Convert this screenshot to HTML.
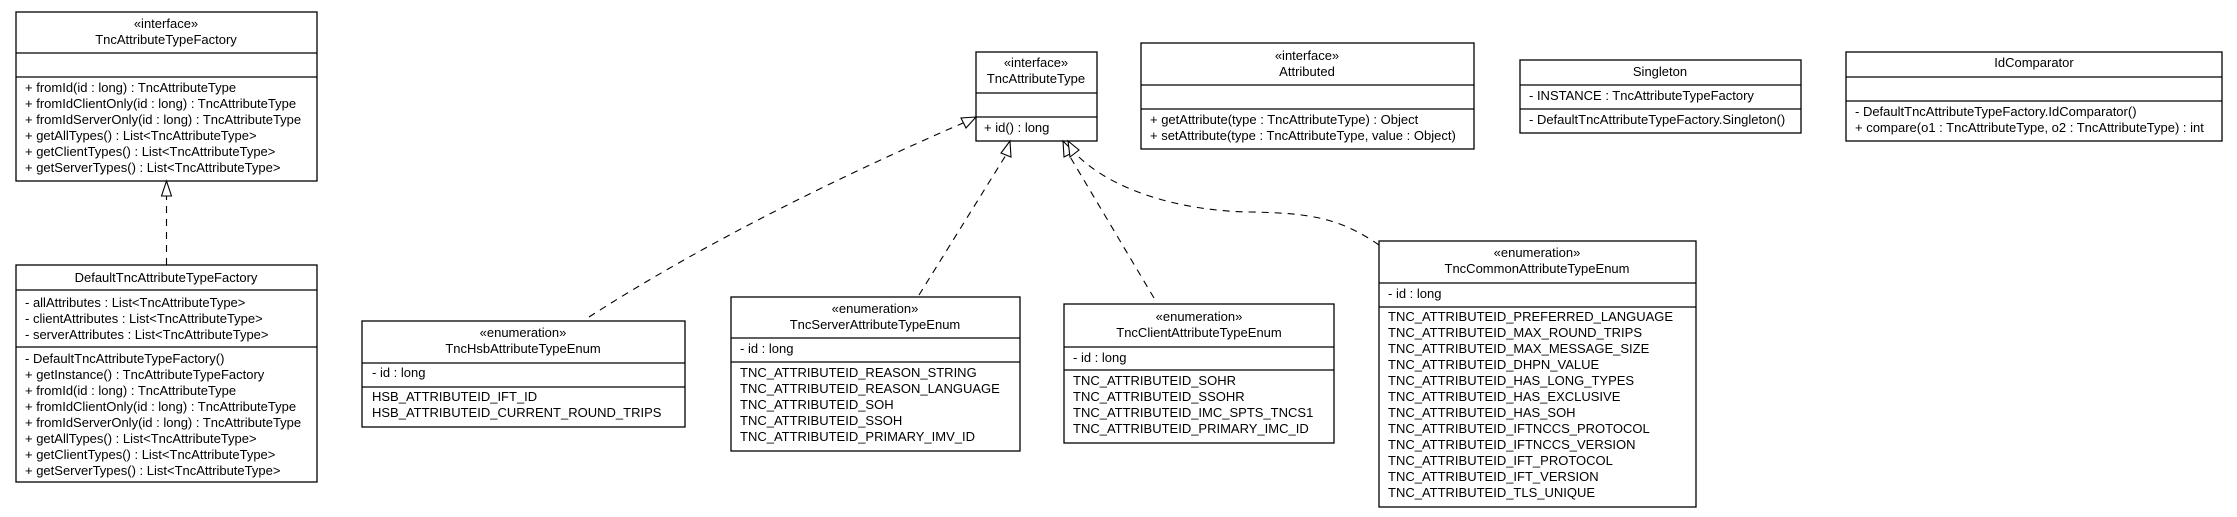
<!DOCTYPE html>
<html><head><meta charset="utf-8"><style>
html,body{margin:0;padding:0;background:#fff;}
svg{display:block;}
text{font-family:"Liberation Sans",sans-serif;font-size:13px;fill:#000;}
.c{text-anchor:middle;}
rect,line.s{stroke:#000;stroke-width:1.3;fill:none;}
.d{stroke:#000;stroke-width:1.1;fill:none;stroke-dasharray:7,6;}
.h{fill:#fff;stroke:#000;stroke-width:1.1;}
</style></head><body>
<svg width="2237" height="517" viewBox="0 0 2237 517" xmlns="http://www.w3.org/2000/svg">
<!-- Box A: TncAttributeTypeFactory -->
<rect x="16" y="12" width="301" height="169"/>
<line class="s" x1="16" y1="53" x2="317" y2="53"/>
<line class="s" x1="16" y1="77" x2="317" y2="77"/>
<text class="c" x="166" y="28">«interface»</text>
<text class="c" x="166" y="44">TncAttributeTypeFactory</text>
<text x="25" y="92">+ fromId(id : long) : TncAttributeType</text>
<text x="25" y="108">+ fromIdClientOnly(id : long) : TncAttributeType</text>
<text x="25" y="124">+ fromIdServerOnly(id : long) : TncAttributeType</text>
<text x="25" y="140">+ getAllTypes() : List&lt;TncAttributeType&gt;</text>
<text x="25" y="156">+ getClientTypes() : List&lt;TncAttributeType&gt;</text>
<text x="25" y="172">+ getServerTypes() : List&lt;TncAttributeType&gt;</text>

<!-- Box B: DefaultTncAttributeTypeFactory -->
<rect x="16" y="265" width="301" height="217"/>
<line class="s" x1="16" y1="290" x2="317" y2="290"/>
<line class="s" x1="16" y1="347" x2="317" y2="347"/>
<text class="c" x="166" y="282">DefaultTncAttributeTypeFactory</text>
<text x="25" y="307">- allAttributes : List&lt;TncAttributeType&gt;</text>
<text x="25" y="323">- clientAttributes : List&lt;TncAttributeType&gt;</text>
<text x="25" y="339">- serverAttributes : List&lt;TncAttributeType&gt;</text>
<text x="25" y="363">- DefaultTncAttributeTypeFactory()</text>
<text x="25" y="379">+ getInstance() : TncAttributeTypeFactory</text>
<text x="25" y="395">+ fromId(id : long) : TncAttributeType</text>
<text x="25" y="411">+ fromIdClientOnly(id : long) : TncAttributeType</text>
<text x="25" y="427">+ fromIdServerOnly(id : long) : TncAttributeType</text>
<text x="25" y="443">+ getAllTypes() : List&lt;TncAttributeType&gt;</text>
<text x="25" y="459">+ getClientTypes() : List&lt;TncAttributeType&gt;</text>
<text x="25" y="475">+ getServerTypes() : List&lt;TncAttributeType&gt;</text>

<!-- A<-B connector -->
<line class="d" x1="166.5" y1="265" x2="166.5" y2="196"/>
<polygon class="h" points="166.5,181 161.5,196 171.5,196"/>

<!-- TncAttributeType -->
<rect x="976" y="52" width="121" height="89"/>
<line class="s" x1="976" y1="93" x2="1097" y2="93"/>
<line class="s" x1="976" y1="117" x2="1097" y2="117"/>
<text class="c" x="1036" y="67">«interface»</text>
<text class="c" x="1036" y="83">TncAttributeType</text>
<text x="984" y="132">+ id() : long</text>

<!-- Attributed -->
<rect x="1141" y="43" width="333" height="106"/>
<line class="s" x1="1141" y1="85" x2="1474" y2="85"/>
<line class="s" x1="1141" y1="109" x2="1474" y2="109"/>
<text class="c" x="1307" y="60">«interface»</text>
<text class="c" x="1307" y="76">Attributed</text>
<text x="1150" y="124">+ getAttribute(type : TncAttributeType) : Object</text>
<text x="1150" y="140">+ setAttribute(type : TncAttributeType, value : Object)</text>

<!-- Singleton -->
<rect x="1520" y="60" width="281" height="73"/>
<line class="s" x1="1520" y1="85" x2="1801" y2="85"/>
<line class="s" x1="1520" y1="109" x2="1801" y2="109"/>
<text class="c" x="1660" y="76">Singleton</text>
<text x="1529" y="100">- INSTANCE : TncAttributeTypeFactory</text>
<text x="1529" y="124">- DefaultTncAttributeTypeFactory.Singleton()</text>

<!-- IdComparator -->
<rect x="1846" y="52" width="376" height="89"/>
<line class="s" x1="1846" y1="77" x2="2222" y2="77"/>
<line class="s" x1="1846" y1="101" x2="2222" y2="101"/>
<text class="c" x="2034" y="67">IdComparator</text>
<text x="1855" y="116">- DefaultTncAttributeTypeFactory.IdComparator()</text>
<text x="1855" y="132">+ compare(o1 : TncAttributeType, o2 : TncAttributeType) : int</text>

<!-- Hsb -->
<rect x="362" y="321" width="323" height="106"/>
<line class="s" x1="362" y1="363" x2="685" y2="363"/>
<line class="s" x1="362" y1="387" x2="685" y2="387"/>
<text class="c" x="523" y="337">«enumeration»</text>
<text class="c" x="523" y="353">TncHsbAttributeTypeEnum</text>
<text x="372" y="377">- id : long</text>
<text x="372" y="401">HSB_ATTRIBUTEID_IFT_ID</text>
<text x="372" y="417">HSB_ATTRIBUTEID_CURRENT_ROUND_TRIPS</text>

<!-- Server -->
<rect x="731" y="297" width="289" height="154"/>
<line class="s" x1="731" y1="338" x2="1020" y2="338"/>
<line class="s" x1="731" y1="362" x2="1020" y2="362"/>
<text class="c" x="875" y="313">«enumeration»</text>
<text class="c" x="875" y="329">TncServerAttributeTypeEnum</text>
<text x="740" y="353">- id : long</text>
<text x="740" y="377">TNC_ATTRIBUTEID_REASON_STRING</text>
<text x="740" y="393">TNC_ATTRIBUTEID_REASON_LANGUAGE</text>
<text x="740" y="409">TNC_ATTRIBUTEID_SOH</text>
<text x="740" y="425">TNC_ATTRIBUTEID_SSOH</text>
<text x="740" y="441">TNC_ATTRIBUTEID_PRIMARY_IMV_ID</text>

<!-- Client -->
<rect x="1064" y="304" width="270" height="139"/>
<line class="s" x1="1064" y1="347" x2="1334" y2="347"/>
<line class="s" x1="1064" y1="370" x2="1334" y2="370"/>
<text class="c" x="1199" y="321">«enumeration»</text>
<text class="c" x="1199" y="337">TncClientAttributeTypeEnum</text>
<text x="1073" y="362">- id : long</text>
<text x="1073" y="385">TNC_ATTRIBUTEID_SOHR</text>
<text x="1073" y="401">TNC_ATTRIBUTEID_SSOHR</text>
<text x="1073" y="417">TNC_ATTRIBUTEID_IMC_SPTS_TNCS1</text>
<text x="1073" y="433">TNC_ATTRIBUTEID_PRIMARY_IMC_ID</text>

<!-- Common -->
<rect x="1379" y="241" width="317" height="266"/>
<line class="s" x1="1379" y1="283" x2="1696" y2="283"/>
<line class="s" x1="1379" y1="307" x2="1696" y2="307"/>
<text class="c" x="1537" y="257">«enumeration»</text>
<text class="c" x="1537" y="273">TncCommonAttributeTypeEnum</text>
<text x="1388" y="298">- id : long</text>
<text x="1388" y="321">TNC_ATTRIBUTEID_PREFERRED_LANGUAGE</text>
<text x="1388" y="337">TNC_ATTRIBUTEID_MAX_ROUND_TRIPS</text>
<text x="1388" y="353">TNC_ATTRIBUTEID_MAX_MESSAGE_SIZE</text>
<text x="1388" y="369">TNC_ATTRIBUTEID_DHPN_VALUE</text>
<text x="1388" y="385">TNC_ATTRIBUTEID_HAS_LONG_TYPES</text>
<text x="1388" y="401">TNC_ATTRIBUTEID_HAS_EXCLUSIVE</text>
<text x="1388" y="417">TNC_ATTRIBUTEID_HAS_SOH</text>
<text x="1388" y="433">TNC_ATTRIBUTEID_IFTNCCS_PROTOCOL</text>
<text x="1388" y="449">TNC_ATTRIBUTEID_IFTNCCS_VERSION</text>
<text x="1388" y="465">TNC_ATTRIBUTEID_IFT_PROTOCOL</text>
<text x="1388" y="481">TNC_ATTRIBUTEID_IFT_VERSION</text>
<text x="1388" y="497">TNC_ATTRIBUTEID_TLS_UNIQUE</text>

<!-- Connectors to TncAttributeType -->
<path class="d" d="M589,317 Q740,220 963,123"/>
<polygon class="h" points="976,117 961,118 966,128"/>
<path class="d" d="M919,295 L1006,155"/>
<polygon class="h" points="1010,141 1001,153 1011,157"/>
<path class="d" d="M1154,298 L1069,155"/>
<polygon class="h" points="1063,141 1064,157 1074,152"/>
<path class="d" d="M1379,245 C1340,218 1310,213 1250,212 C1180,211 1110,190 1075,153"/>
<polygon class="h" points="1068,141 1070,157 1079,150"/>
</svg>
</body></html>
